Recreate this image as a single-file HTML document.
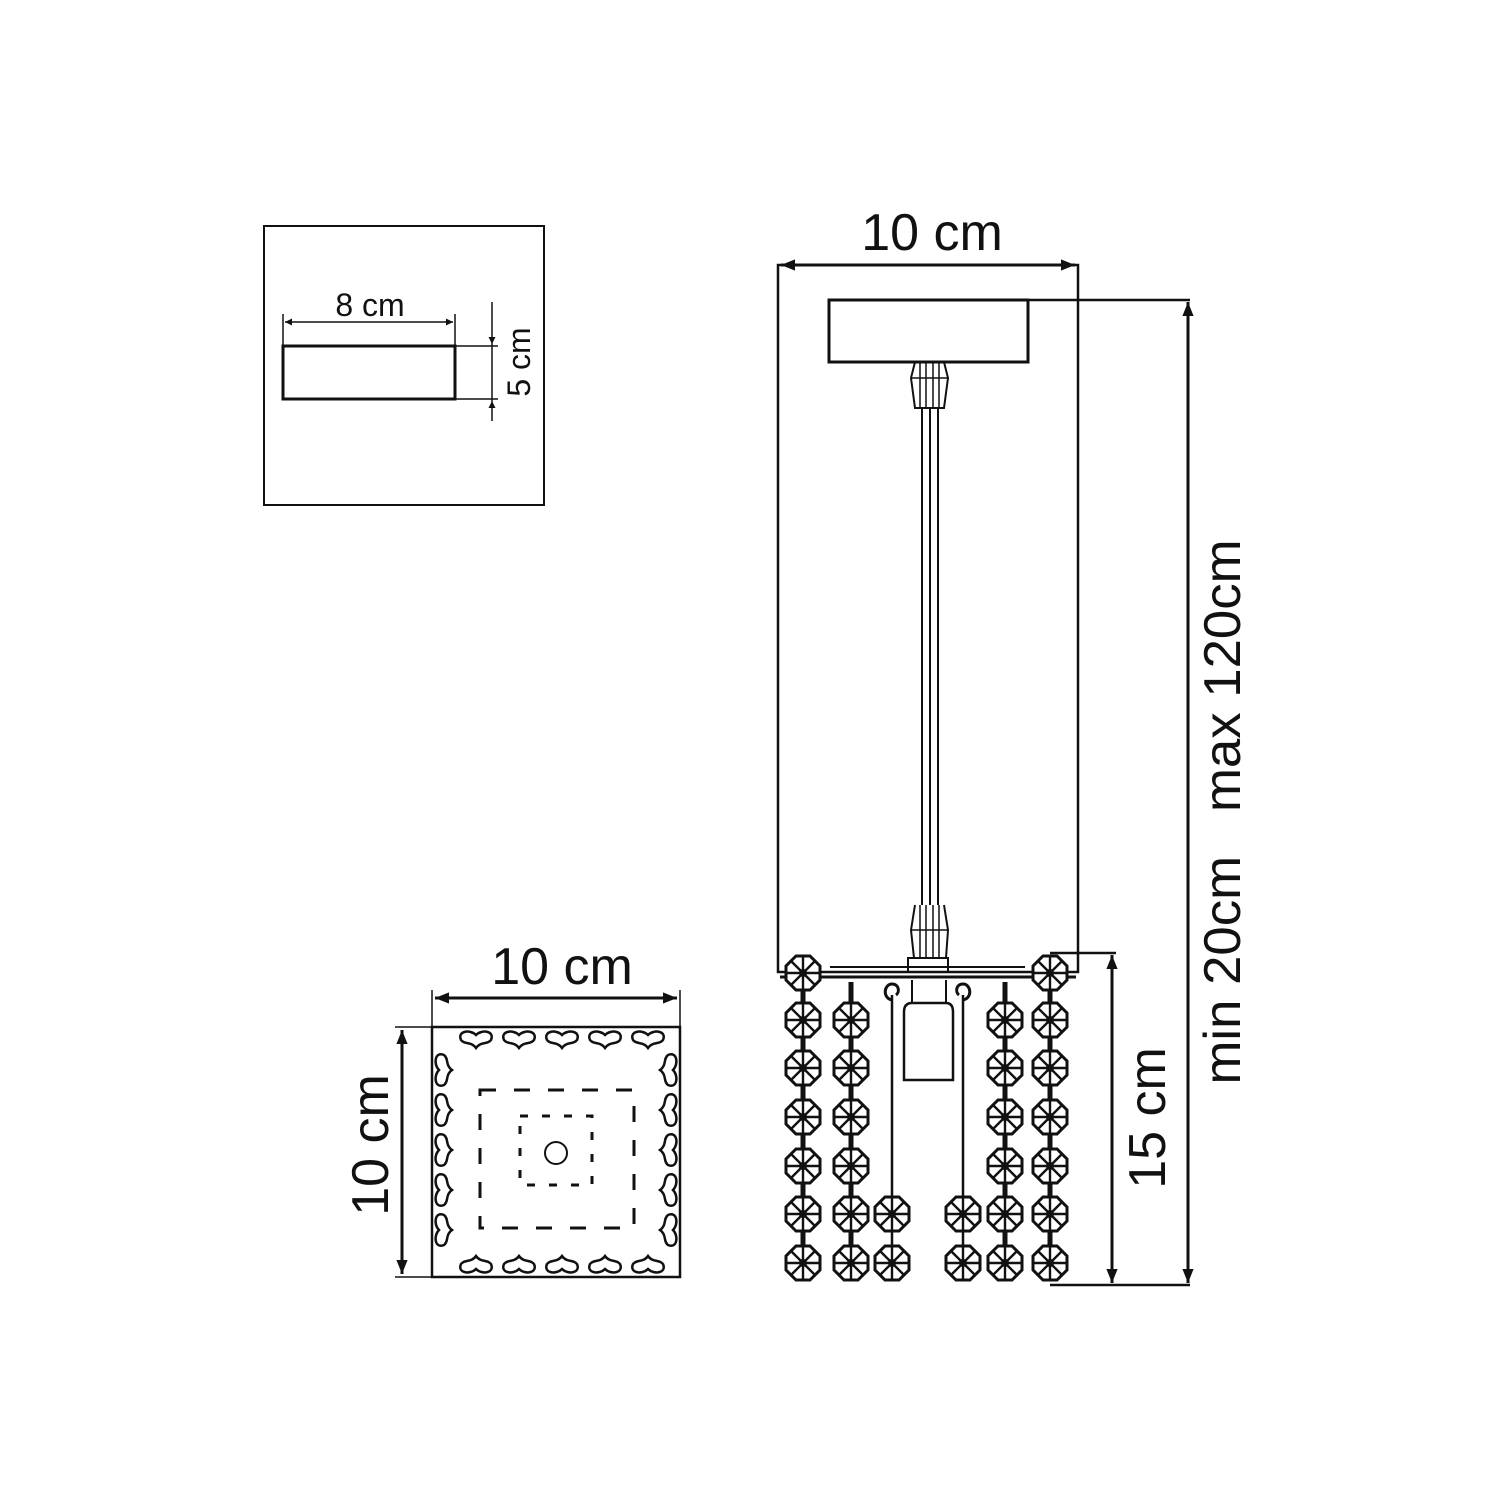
<!DOCTYPE html>
<html><head><meta charset="utf-8"><style>html,body{margin:0;padding:0;background:#fff}svg{display:block}text{font-family:"Liberation Sans",sans-serif;fill:#111}</style></head>
<body>
<svg width="1500" height="1500" viewBox="0 0 1500 1500" xmlns="http://www.w3.org/2000/svg">
<defs>
<marker id="a" viewBox="0 0 10 10" refX="10" refY="5" markerWidth="7" markerHeight="7" orient="auto-start-reverse" markerUnits="userSpaceOnUse"><path d="M0,0 L10,5 L0,10 z" fill="#111"/></marker>
<marker id="b" viewBox="0 0 10 10" refX="10" refY="5" markerWidth="14" markerHeight="14" orient="auto-start-reverse" markerUnits="userSpaceOnUse"><path d="M0,1 L10,5 L0,9 z" fill="#111"/></marker>
<g id="c">
<polygon points="-7,-17 7,-17 17,-7 17,7 7,17 -7,17 -17,7 -17,-7" fill="#fff" stroke="#111" stroke-width="3"/>
<path d="M-17,0 H17 M0,-17 V17 M-12,-12 L12,12 M12,-12 L-12,12" stroke="#111" stroke-width="2.4"/>
<circle r="4" fill="#111"/>
</g>
<g id="s"><path d="M-15,0 C-19,-9 -6,-11 0,-5 C6,-11 19,-9 15,0 C11,5 5,1 0,8 C-5,1 -11,5 -15,0z" fill="none" stroke="#111" stroke-width="2.5"/></g>
</defs>
<g fill="none" stroke="#111">
<rect x="264" y="226" width="280" height="279" stroke-width="2"/>
<rect x="283" y="346" width="172" height="53" stroke-width="3"/>
<line x1="283" y1="314" x2="283" y2="346" stroke-width="1.5"/>
<line x1="455" y1="314" x2="455" y2="346" stroke-width="1.5"/>
<line x1="285" y1="322" x2="453" y2="322" stroke-width="1.5" marker-start="url(#a)" marker-end="url(#a)"/>
<line x1="455" y1="346" x2="498" y2="346" stroke-width="1.5"/>
<line x1="455" y1="399" x2="498" y2="399" stroke-width="1.5"/>
<line x1="492" y1="302" x2="492" y2="344" stroke-width="1.5" marker-end="url(#a)"/>
<line x1="492" y1="421" x2="492" y2="401" stroke-width="1.5" marker-end="url(#a)"/>
<line x1="492" y1="344" x2="492" y2="401" stroke-width="1.5"/>
<rect x="778" y="265" width="300" height="707" stroke-width="2.5"/>
<line x1="781" y1="265" x2="1075" y2="265" stroke-width="3" marker-start="url(#b)" marker-end="url(#b)"/>
<rect x="829" y="300" width="199" height="62" stroke-width="3"/>
<line x1="1028" y1="300" x2="1190" y2="300" stroke-width="2.5"/>
<line x1="1188" y1="302" x2="1188" y2="1283" stroke-width="3" marker-start="url(#b)" marker-end="url(#b)"/>
<line x1="1050" y1="1285" x2="1190" y2="1285" stroke-width="2.5"/>
<line x1="1050" y1="953" x2="1116" y2="953" stroke-width="2.5"/>
<line x1="1112" y1="955" x2="1112" y2="1283" stroke-width="3" marker-start="url(#b)" marker-end="url(#b)"/>
<path d="M915,362 L911,378 L915,408 L944,408 L948,378 L944,362" stroke-width="2"/>
<path d="M911,378 H948 M920,362 V408 M926,362 V408 M933,362 V408 M939,362 V408" stroke-width="1.5"/>
<path d="M922,408 V905 M930,408 V905 M938,408 V905" stroke-width="2"/>
<path d="M915,905 L911,930 L914,958 L946,958 L948,930 L944,905" stroke-width="2"/>
<path d="M911,930 H948 M920,905 V958 M926,905 V958 M933,905 V958 M939,905 V958" stroke-width="1.5"/>
<rect x="908" y="958" width="40" height="14" stroke-width="2"/>
<line x1="830" y1="967" x2="1025" y2="967" stroke-width="2"/>
<line x1="780" y1="977" x2="1076" y2="977" stroke-width="3"/>
<path d="M912,980 V1003 M946,980 V1003" stroke-width="2"/>
<path d="M904,1080 V1012 Q904,1003 912,1003 H946 Q953,1003 953,1012 V1080 Z" stroke-width="2.5"/>
<path d="M803,973 V1263 M851,982 V1263 M1005,982 V1263 M1050,973 V1263" stroke-width="5"/>
<path d="M892,995 V1263 M963,995 V1263" stroke-width="2.5"/>
<path d="M892,1000 C882,998 884,984 892,984 C899,984 900,992 896,995" stroke-width="3"/>
<path d="M963,1000 C973,998 971,984 963,984 C956,984 955,992 959,995" stroke-width="3"/>
<rect x="432" y="1027" width="248" height="250" stroke-width="2.5"/>
<line x1="432" y1="990" x2="432" y2="1027" stroke-width="1.5"/>
<line x1="680" y1="990" x2="680" y2="1027" stroke-width="1.5"/>
<line x1="435" y1="998" x2="677" y2="998" stroke-width="3" marker-start="url(#b)" marker-end="url(#b)"/>
<line x1="395" y1="1027" x2="432" y2="1027" stroke-width="1.5"/>
<line x1="395" y1="1277" x2="432" y2="1277" stroke-width="1.5"/>
<line x1="402" y1="1030" x2="402" y2="1274" stroke-width="3" marker-start="url(#b)" marker-end="url(#b)"/>
<path d="M480,1090 H634 V1228 H480 Z" stroke-width="3" stroke-dasharray="16,18"/>
<path d="M520,1116 H592 V1185 H520 Z" stroke-width="3" stroke-dasharray="8,14"/>
<circle cx="556" cy="1153" r="11" stroke-width="2"/>
</g>
<g>
<use href="#c" x="803" y="973"/><use href="#c" x="1050" y="973"/>
<use href="#c" x="803" y="1020"/><use href="#c" x="851" y="1020"/><use href="#c" x="1005" y="1020"/><use href="#c" x="1050" y="1020"/>
<use href="#c" x="803" y="1068"/><use href="#c" x="851" y="1068"/><use href="#c" x="1005" y="1068"/><use href="#c" x="1050" y="1068"/>
<use href="#c" x="803" y="1117"/><use href="#c" x="851" y="1117"/><use href="#c" x="1005" y="1117"/><use href="#c" x="1050" y="1117"/>
<use href="#c" x="803" y="1166"/><use href="#c" x="851" y="1166"/><use href="#c" x="1005" y="1166"/><use href="#c" x="1050" y="1166"/>
<use href="#c" x="803" y="1214"/><use href="#c" x="851" y="1214"/><use href="#c" x="892" y="1214"/><use href="#c" x="963" y="1214"/><use href="#c" x="1005" y="1214"/><use href="#c" x="1050" y="1214"/>
<use href="#c" x="803" y="1263"/><use href="#c" x="851" y="1263"/><use href="#c" x="892" y="1263"/><use href="#c" x="963" y="1263"/><use href="#c" x="1005" y="1263"/><use href="#c" x="1050" y="1263"/>
<use href="#s" x="476" y="1040"/><use href="#s" x="519" y="1040"/><use href="#s" x="562" y="1040"/><use href="#s" x="605" y="1040"/><use href="#s" x="648" y="1040"/>
<g transform="translate(0,2314) scale(1,-1)"><use href="#s" x="476" y="1050"/><use href="#s" x="519" y="1050"/><use href="#s" x="562" y="1050"/><use href="#s" x="605" y="1050"/><use href="#s" x="648" y="1050"/></g>
<g transform="rotate(90 556 1152)"><use href="#s" x="474" y="1040"/><use href="#s" x="514" y="1040"/><use href="#s" x="554" y="1040"/><use href="#s" x="594" y="1040"/><use href="#s" x="634" y="1040"/></g>
<g transform="rotate(-90 556 1152)"><use href="#s" x="478" y="1040"/><use href="#s" x="518" y="1040"/><use href="#s" x="558" y="1040"/><use href="#s" x="598" y="1040"/><use href="#s" x="638" y="1040"/></g>
</g>
<text x="370" y="316" font-size="32" text-anchor="middle">8 cm</text>
<text transform="translate(530,362) rotate(-90)" font-size="32" text-anchor="middle">5 cm</text>
<text x="932" y="250" font-size="52" text-anchor="middle">10 cm</text>
<text x="562" y="984" font-size="52" text-anchor="middle">10 cm</text>
<text transform="translate(388,1145) rotate(-90)" font-size="52" text-anchor="middle">10 cm</text>
<text transform="translate(1165,1118) rotate(-90)" font-size="52" text-anchor="middle">15 cm</text>
<text transform="translate(1240,812) rotate(-90)" font-size="52" text-anchor="middle" textLength="545" lengthAdjust="spacingAndGlyphs" xml:space="preserve">min 20cm   max 120cm</text>
</svg>
</body></html>
